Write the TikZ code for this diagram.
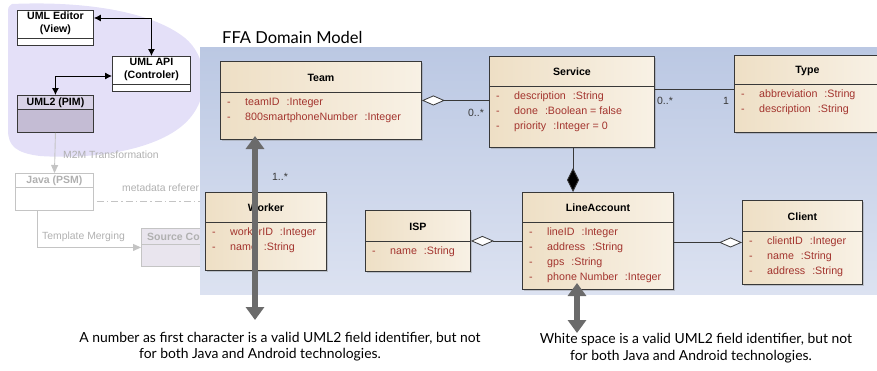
\documentclass[tikz,border=0pt]{standalone}
\usepackage{fontspec}
\setmainfont{Liberation Sans}
\newfontfamily\notefont{Lato}
\usetikzlibrary{arrows.meta,calc,shadows}

\definecolor{panelTop}{HTML}{BBC8E3}
\definecolor{panelBot}{HTML}{DCE2F1}
\definecolor{creamL}{HTML}{EEDFC5}
\definecolor{creamR}{HTML}{F8F1E5}
\definecolor{attrred}{HTML}{A3342E}
\definecolor{edge}{HTML}{383838}
\definecolor{blobfill}{HTML}{E4E0F8}
\definecolor{pimhead}{HTML}{D8D2E6}
\definecolor{pimbody}{HTML}{C4BCD4}
\definecolor{fadeline}{HTML}{C4C4C4}
\definecolor{fadetext}{HTML}{B0B0B0}
\definecolor{srcfill}{HTML}{E9E5EE}
\definecolor{bigarrow}{HTML}{6B6B6B}

\tikzset{
  classbox/.style={draw=edge, line width=0.9pt, left color=creamL, right color=creamR,
    drop shadow={shadow xshift=1.5pt, shadow yshift=-1.5pt, opacity=0.35}, inner sep=0pt},
  classline/.style={draw=edge, line width=0.9pt},
  classtitle/.style={font=\fontsize{10.6}{12}\selectfont\bfseries, text=black, inner sep=0pt},
  classattr/.style={font=\fontsize{10.7}{14.8}\selectfont, text=attrred, inner sep=0pt},
  mult/.style={font=\fontsize{10.5}{12}\selectfont, text=edge, inner sep=0pt},
  assoc/.style={draw=edge, line width=0.8pt},
  agg/.style={assoc, {Diamond[length=23pt,width=10pt,fill=white,line width=0.8pt]}-},
  aggend/.style={assoc, -{Diamond[length=23pt,width=10pt,fill=white,line width=0.8pt]}},
  comp/.style={assoc, -{Diamond[length=24pt,width=12pt,fill=black]}},
  ctrlbox/.style={draw=edge, line width=0.9pt, fill=white, inner sep=0pt},
  ctrltext/.style={font=\fontsize{10.6}{13.5}\selectfont\bfseries, align=center, inner sep=0pt},
  ctrl/.style={draw=black, line width=0.9pt, {Latex[length=7pt,width=7pt]}-{Latex[length=7pt,width=7pt]}},
  fadebox/.style={draw=fadeline, line width=0.9pt, fill=white, inner sep=0pt},
  fadetitle/.style={font=\fontsize{10.5}{12}\selectfont\bfseries, text=fadetext, inner sep=0pt},
  fadelabel/.style={font=\fontsize{10.4}{12}\selectfont, text=fadetext, inner sep=0pt},
  fadearrow/.style={draw=fadeline, line width=0.9pt, -{Triangle[length=8pt,width=7pt]}},
  hint/.style={draw=bigarrow, line width=5.5pt,
    {Triangle[length=13pt,width=18pt]}-{Triangle[length=13pt,width=18pt]}},
  note/.style={font=\notefont\fontsize{13.9}{17}\selectfont, inner sep=0pt},
}

% attribute row: visibility, name, type
\newcommand\attrrow[2]{- & #1\hspace{7pt}:#2}
\newcommand\attrtable[1]{\begin{tabular}{@{}p{18pt}@{}l@{}}#1\end{tabular}}

% class box: name, x, y, width, height, header height, title, attribute rows
\newcommand\umlclass[8]{%
  \node[classbox, minimum width=#4, minimum height=#5, anchor=north west] (#1) at (#2,#3) {};
  \coordinate (#1-sl) at ($(#1.north west)+(0,#6)$);
  \coordinate (#1-sr) at ($(#1.north east)+(0,#6)$);
  \draw[classline] (#1-sl) -- (#1-sr);
  \node[classtitle] (#1-title) at ($(#1.north)+(0,#6/2+1)$) {#7};
  \node[classattr, anchor=north west] (#1-attrs) at ($(#1-sl)+(7,3.4)$) {\attrtable{#8}};
}

\begin{document}
\begin{tikzpicture}[x=1pt, y=-1pt]
\useasboundingbox (0,0) rectangle (877,370);

% --- MVC tooling area ---
\fill[blobfill] (12,4) .. controls (80,1) and (150,10) .. (185,38)
  .. controls (206,55) and (212,92) .. (190,118)
  .. controls (165,148) and (100,160) .. (40,156)
  .. controls (16,153) and (8,146) .. (8,130) -- (8,14)
  .. controls (8,7) .. (12,4) -- cycle;

\node[ctrlbox, minimum width=76, minimum height=35, anchor=north west] (editor) at (17,10) {};
\draw[classline] ($(editor.north west)+(0,28)$) -- ($(editor.north east)+(0,28)$);
\node[ctrltext] (editor-title) at ($(editor.north)+(0,13.5)$) {UML Editor\\(View)};

\node[ctrlbox, minimum width=78, minimum height=35, anchor=north west] (api) at (112,56) {};
\draw[classline] ($(api.north west)+(0,28)$) -- ($(api.north east)+(0,28)$);
\node[ctrltext] (api-title) at ($(api.north)+(0,13.5)$) {UML API\\(Controler)};

\node[draw=edge, line width=0.9pt, fill=pimbody, minimum width=76, minimum height=37, anchor=north west, inner sep=0pt] (pim) at (17,95) {};
\fill[pimhead] (pim.north west) rectangle ($(pim.north east)+(0,14)$);
\draw[draw=edge, line width=0.9pt] (pim.north west) rectangle (pim.south east);
\draw[classline] ($(pim.north west)+(0,14)$) -- ($(pim.north east)+(0,14)$);
\node[ctrltext] (pim-title) at ($(pim.north)+(0,7.5)$) {UML2 (PIM)};

\draw[ctrl] ($(editor.north east)+(0,8)$) -| (api.north);
\draw[ctrl] ($(api.north west)+(0,20)$) -| (pim.north);

\node[fadebox, minimum width=78, minimum height=37, anchor=north west] (java) at (15,173) {};
\draw[draw=fadeline, line width=0.9pt] ($(java.north west)+(0,14)$) -- ($(java.north east)+(0,14)$);
\node[fadetitle] (java-title) at ($(java.north)+(0,7.5)$) {Java (PSM)};

\node[draw=fadeline, line width=0.9pt, fill=srcfill, minimum width=80, minimum height=38, anchor=north west, inner sep=0pt] (src) at (141,228) {};
\draw[draw=fadeline, line width=0.9pt] ($(src.north west)+(0,16)$) -- ($(src.north east)+(0,16)$);
\node[fadetitle, anchor=west] (src-title) at ($(src.north west)+(6,8.5)$) {Source Co};

\draw[fadearrow] (pim.south) -- (java.north);
\node[fadelabel, anchor=west] (m2m) at (63,155) {M2M Transformation};

\draw[fadearrow] ($(java.south west)+(22,0)$) |- (src.west);
\node[fadelabel, anchor=west] (merge) at (42,237) {Template Merging};

\coordinate (metaend) at (200,201);
\draw[draw=fadeline, line width=0.9pt, dash pattern=on 7pt off 3pt on 1.5pt off 3pt]
  ($(java.east |- metaend)+(3,0)$) -- (metaend);
\node[fadelabel, anchor=west] (meta) at (122,188) {metadata referer};

% --- domain model panel ---
\node[anchor=north west, minimum width=690, minimum height=247, inner sep=0pt,
  top color=panelTop, bottom color=panelBot] (panel) at (200,47) {};
\node[font=\notefont\fontsize{16.5}{19}\selectfont, anchor=west, inner sep=0pt] (title) at (222,37) {FFA Domain Model};

\umlclass{team}{220}{61}{201}{78}{31}{Team}{\attrrow{teamID}{Integer}\\ \attrrow{800smartphoneNumber}{Integer}}
\umlclass{service}{489}{56}{165}{91}{30}{Service}{\attrrow{description}{String}\\ \attrrow{done}{Boolean = false}\\ \attrrow{priority}{Integer = 0}}
\umlclass{type}{734}{55}{146}{77}{29}{Type}{\attrrow{abbreviation}{String}\\ \attrrow{description}{String}}
\umlclass{worker}{205}{192}{121}{78}{30}{Worker}{\attrrow{workerID}{Integer}\\ \attrrow{name}{String}}
\umlclass{isp}{365}{210}{105}{61}{31}{ISP}{\attrrow{name}{String}}
\umlclass{lineacc}{522}{192}{151}{97}{30}{LineAccount}{\attrrow{lineID}{Integer}\\ \attrrow{address}{String}\\ \attrrow{gps}{String}\\ \attrrow{phone Number}{Integer}}
\umlclass{client}{742}{200}{120}{84}{31}{Client}{\attrrow{clientID}{Integer}\\ \attrrow{name}{String}\\ \attrrow{address}{String}}

% associations
\draw[agg] (team.east) -- (team.east -| service.west);
\node[mult] (m-team-service) at (476,113) {0..*};

\coordinate (typeleft) at (type.west |- 0,89);
\draw[assoc] (typeleft -| service.east) -- (typeleft);
\node[mult] (m-service-type) at (665,101) {0..*};
\node[mult] (m-type-service) at (726,101) {1};

\coordinate (compx) at (573,0);
\draw[comp] (compx |- service.south) -- (compx |- lineacc.north);

\draw[agg] (isp.east) -- (isp.east -| lineacc.west);
\draw[aggend] (client.west -| lineacc.east) -- (client.west);

\node[mult] (m-worker) at (280,177) {1..*};

% remarks about identifiers
\coordinate (hintA-top) at (255,136);
\coordinate (hintA-bot) at (255,320);
\draw[hint] (hintA-top) -- (hintA-bot);

\coordinate (hintB-top) at (577,283);
\coordinate (hintB-bot) at (577,333);
\draw[hint] (hintB-top) -- (hintB-bot);

\node[note] (noteA-1) at (280,338) {A number as first character is a valid UML2 field identifier, but not};
\node[note] (noteA-2) at (260,355) {for both Java and Android technologies.};
\node[note] (noteB-1) at (696,340) {White space is a valid UML2 field identifier, but not};
\node[note] (noteB-2) at (691,357) {for both Java and Android technologies.};
\end{tikzpicture}
\end{document}
